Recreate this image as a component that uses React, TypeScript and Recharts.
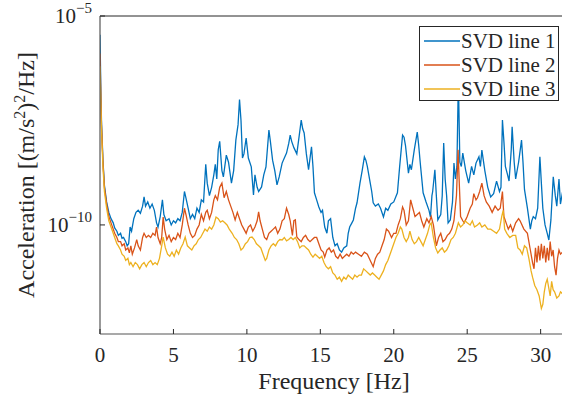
import { LineChart, Line, XAxis, YAxis, Legend } from "recharts";

// [frequency (Hz), log10 of PSD]
const SVD1_LOG: [number, number][] = [
  [0, -5.45], [0.05, -6.6], [0.1, -7.5], [0.2, -8.45], [0.3, -9.05], [0.45, -9.45],
  [0.6, -9.7], [0.75, -9.85], [0.9, -9.95], [1.0, -10.07], [1.15, -10.15], [1.25, -10.25],
  [1.4, -10.2], [1.5, -10.32], [1.6, -10.3], [1.75, -10.4], [1.85, -10.5], [1.95, -10.45],
  [2.05, -10.05], [2.15, -10.15], [2.3, -9.85], [2.45, -9.7], [2.6, -9.65], [2.75, -9.72],
  [2.9, -9.55], [3.0, -9.33], [3.1, -9.55], [3.25, -9.45], [3.4, -9.6], [3.55, -9.5],
  [3.7, -9.65], [3.85, -9.95], [3.95, -10.05], [4.1, -9.8], [4.25, -9.4], [4.35, -9.75],
  [4.5, -9.9], [4.7, -9.85], [4.85, -10.0], [5.0, -9.9], [5.15, -9.95], [5.3, -9.85],
  [5.45, -9.9], [5.6, -9.7], [5.75, -9.2], [5.85, -9.35], [6.0, -9.6], [6.15, -9.85],
  [6.3, -9.75], [6.45, -9.85], [6.6, -9.6], [6.75, -9.7], [6.9, -9.4], [7.05, -9.45],
  [7.2, -8.55], [7.3, -9.0], [7.45, -9.3], [7.6, -9.1], [7.75, -8.8], [7.85, -8.55],
  [7.95, -8.9], [8.05, -8.2], [8.15, -8.0], [8.3, -8.7], [8.4, -8.85], [8.6, -8.33],
  [8.75, -8.5], [8.95, -9.0], [9.1, -8.7], [9.25, -7.97], [9.4, -7.6], [9.5, -7.0],
  [9.6, -7.5], [9.7, -8.4], [9.8, -8.3], [9.95, -7.92], [10.1, -8.4], [10.3, -8.61],
  [10.45, -9.28], [10.55, -8.8], [10.7, -9.1], [10.8, -9.2], [11.0, -9.09], [11.15, -8.8],
  [11.3, -8.61], [11.5, -7.73], [11.6, -8.0], [11.75, -8.45], [11.9, -8.7], [12.05, -9.04],
  [12.2, -8.85], [12.4, -8.52], [12.55, -8.4], [12.7, -8.28], [12.85, -8.05], [12.95, -7.85],
  [13.05, -8.0], [13.2, -8.15], [13.4, -8.3], [13.55, -7.9], [13.7, -7.49], [13.8, -7.7],
  [13.9, -7.8], [14.05, -8.3], [14.2, -8.68], [14.3, -8.4], [14.4, -8.13], [14.5, -8.6],
  [14.6, -9.23], [14.75, -9.4], [14.9, -9.57], [15.05, -9.7], [15.15, -9.65], [15.3, -10.05],
  [15.45, -10.2], [15.55, -9.9], [15.7, -9.85], [15.85, -10.3], [16.0, -10.5], [16.15, -10.45],
  [16.3, -10.6], [16.45, -10.65], [16.6, -10.55], [16.8, -10.5], [16.9, -10.2], [17.0, -10.05],
  [17.15, -9.95], [17.25, -9.88], [17.4, -9.6], [17.5, -9.47], [17.7, -9.0], [17.85, -8.7],
  [18.0, -8.37], [18.1, -8.45], [18.2, -8.6], [18.4, -9.0], [18.5, -9.2], [18.6, -9.47],
  [18.75, -9.55], [18.95, -9.5], [19.1, -9.6], [19.3, -9.81], [19.45, -9.6], [19.6, -9.65],
  [19.8, -9.5], [20.0, -9.45], [20.25, -9.23], [20.4, -8.61], [20.6, -7.85], [20.7, -7.9],
  [20.8, -8.1], [21.0, -8.76], [21.1, -8.55], [21.2, -8.68], [21.4, -8.2], [21.6, -7.78],
  [21.7, -8.1], [21.8, -8.5], [22.0, -9.23], [22.2, -9.45], [22.4, -9.65], [22.5, -9.81],
  [22.6, -9.3], [22.65, -9.2], [22.8, -8.68], [22.9, -9.3], [23.0, -9.88], [23.2, -9.75],
  [23.3, -9.3], [23.4, -8.04], [23.5, -8.9], [23.6, -9.3], [23.7, -9.95], [23.85, -9.88],
  [24.0, -9.45], [24.1, -8.52], [24.2, -8.9], [24.3, -8.6], [24.4, -6.5], [24.5, -8.5],
  [24.6, -8.6], [24.7, -8.28], [24.9, -8.7], [25.1, -9.0], [25.3, -8.6], [25.45, -8.8],
  [25.6, -8.52], [25.8, -8.37], [25.9, -8.6], [26.0, -8.21], [26.2, -8.7], [26.4, -9.1],
  [26.6, -9.33], [26.8, -9.25], [27.0, -8.95], [27.2, -9.2], [27.3, -9.1], [27.4, -7.49],
  [27.5, -8.0], [27.6, -8.6], [27.75, -8.8], [27.85, -8.95], [28.0, -8.2], [28.06, -7.65],
  [28.2, -8.5], [28.3, -8.9], [28.5, -8.5], [28.7, -7.97], [28.8, -8.5], [28.9, -9.15],
  [29.1, -9.6], [29.3, -10.1], [29.4, -9.9], [29.5, -9.8], [29.65, -9.85], [29.8, -9.6],
  [29.95, -8.37], [30.05, -9.0], [30.15, -9.6], [30.3, -10.0], [30.45, -10.2], [30.56, -10.36],
  [30.7, -9.88], [30.86, -8.85], [31.0, -9.3], [31.1, -9.55], [31.25, -8.9], [31.35, -9.5],
  [31.5, -9.2],
];

const SVD2_LOG: [number, number][] = [
  [0, -5.9], [0.05, -6.8], [0.1, -7.6], [0.2, -8.5], [0.3, -9.1], [0.45, -9.5],
  [0.6, -9.8], [0.75, -9.95], [0.9, -10.1], [1.0, -10.2], [1.15, -10.3], [1.25, -10.4],
  [1.4, -10.4], [1.5, -10.5], [1.65, -10.45], [1.75, -10.6], [1.9, -10.55], [2.0, -10.67],
  [2.1, -10.5], [2.2, -10.7], [2.35, -10.55], [2.5, -10.35], [2.6, -10.5], [2.75, -10.6],
  [2.9, -10.3], [3.0, -10.2], [3.15, -10.3], [3.3, -10.25], [3.45, -10.3], [3.6, -10.2],
  [3.75, -10.25], [3.85, -10.05], [3.95, -10.3], [4.1, -10.45], [4.2, -10.3], [4.3, -9.81],
  [4.4, -10.1], [4.55, -10.35], [4.7, -10.25], [4.85, -10.4], [5.0, -10.3], [5.15, -10.35],
  [5.3, -10.2], [5.45, -10.3], [5.6, -10.0], [5.75, -9.6], [5.85, -9.75], [6.0, -10.0],
  [6.15, -10.2], [6.3, -10.3], [6.45, -10.25], [6.6, -10.1], [6.75, -10.0], [6.9, -9.75],
  [7.05, -9.9], [7.2, -9.7], [7.3, -9.65], [7.45, -9.85], [7.6, -9.7], [7.75, -9.4],
  [7.85, -9.3], [8.0, -9.4], [8.15, -9.1], [8.3, -9.0], [8.45, -9.35], [8.6, -9.2],
  [8.75, -9.4], [8.9, -9.55], [9.05, -9.7], [9.2, -9.88], [9.35, -9.7], [9.5, -9.85],
  [9.65, -10.0], [9.8, -10.1], [9.95, -10.2], [10.1, -10.05], [10.25, -10.0], [10.4, -10.15],
  [10.55, -10.05], [10.7, -9.9], [10.8, -9.69], [10.9, -9.9], [11.05, -10.1], [11.2, -10.3],
  [11.35, -10.35], [11.5, -10.2], [11.65, -10.15], [11.8, -10.1], [11.95, -10.05], [12.1, -10.2],
  [12.25, -10.1], [12.4, -9.9], [12.55, -9.85], [12.7, -9.6], [12.85, -9.75], [12.95, -9.9],
  [13.1, -10.25], [13.2, -9.9], [13.3, -9.88], [13.4, -10.29], [13.55, -10.35], [13.7, -10.4],
  [13.85, -10.3], [14.0, -10.25], [14.15, -10.35], [14.3, -10.4], [14.45, -10.35], [14.6, -10.3],
  [14.75, -10.3], [14.9, -10.45], [15.05, -10.6], [15.2, -10.65], [15.3, -10.77], [15.45, -10.6],
  [15.6, -10.55], [15.75, -10.65], [15.9, -10.6], [16.05, -10.75], [16.2, -10.8], [16.35, -10.7],
  [16.5, -10.8], [16.65, -10.75], [16.8, -10.7], [16.95, -10.75], [17.1, -10.65], [17.25, -10.7],
  [17.4, -10.65], [17.6, -10.7], [17.8, -10.75], [18.0, -10.65], [18.2, -10.7], [18.4, -10.85],
  [18.6, -11.0], [18.75, -10.8], [18.9, -10.7], [19.05, -10.65], [19.2, -10.5], [19.35, -10.35],
  [19.5, -10.1], [19.65, -10.15], [19.85, -10.3], [20.0, -10.2], [20.15, -10.2], [20.3, -10.0],
  [20.45, -9.85], [20.6, -9.57], [20.7, -9.65], [20.85, -10.0], [21.0, -9.9], [21.15, -9.4],
  [21.3, -9.6], [21.45, -9.8], [21.6, -9.75], [21.75, -9.7], [21.9, -9.9], [22.05, -10.05],
  [22.25, -9.85], [22.4, -9.95], [22.55, -9.8], [22.7, -10.0], [22.9, -10.5], [23.05, -10.3],
  [23.2, -10.2], [23.35, -10.4], [23.5, -10.35], [23.65, -10.25], [23.8, -10.2], [23.95, -10.1],
  [24.1, -9.9], [24.27, -9.3], [24.38, -8.2], [24.45, -8.9], [24.55, -9.8], [24.7, -9.9],
  [24.8, -9.95], [25.0, -9.8], [25.2, -9.6], [25.35, -9.5], [25.45, -9.25], [25.6, -9.4],
  [25.7, -9.35], [25.85, -9.2], [26.0, -9.0], [26.15, -9.3], [26.3, -9.45], [26.5, -9.55],
  [26.7, -9.7], [26.9, -9.55], [27.1, -9.65], [27.25, -9.6], [27.4, -9.2], [27.5, -9.8],
  [27.65, -9.95], [27.8, -10.1], [27.95, -10.0], [28.1, -10.15], [28.3, -9.95], [28.5, -9.85],
  [28.6, -9.9], [28.86, -10.1], [29.1, -10.2], [29.3, -10.6], [29.45, -10.9], [29.55, -11.05],
  [29.65, -10.55], [29.75, -10.9], [29.85, -10.5], [29.95, -10.85], [30.05, -10.45], [30.15, -10.8],
  [30.25, -10.5], [30.35, -10.9], [30.45, -10.55], [30.55, -10.85], [30.65, -10.4], [30.75, -10.75],
  [30.85, -10.6], [30.95, -11.0], [31.05, -11.2], [31.15, -10.8], [31.25, -10.6], [31.35, -10.7],
  [31.5, -10.65],
];

const SVD3_LOG: [number, number][] = [
  [0, -6.2], [0.05, -7.0], [0.1, -7.7], [0.2, -8.6], [0.3, -9.2], [0.45, -9.6],
  [0.6, -9.9], [0.75, -10.05], [0.9, -10.2], [1.0, -10.3], [1.15, -10.45], [1.25, -10.5],
  [1.4, -10.6], [1.5, -10.7], [1.65, -10.75], [1.75, -10.85], [1.9, -10.8], [2.0, -10.95],
  [2.1, -10.9], [2.25, -11.0], [2.4, -10.9], [2.55, -10.95], [2.7, -11.05], [2.85, -10.95],
  [3.0, -10.9], [3.15, -11.0], [3.3, -10.9], [3.45, -10.85], [3.6, -10.95], [3.75, -10.9],
  [3.9, -10.95], [4.05, -10.8], [4.2, -10.5], [4.3, -10.29], [4.45, -10.55], [4.6, -10.7],
  [4.75, -10.75], [4.9, -10.65], [5.05, -10.75], [5.2, -10.6], [5.35, -10.7], [5.5, -10.55],
  [5.65, -10.45], [5.8, -10.29], [5.95, -10.5], [6.1, -10.55], [6.25, -10.6], [6.4, -10.5],
  [6.55, -10.45], [6.7, -10.35], [6.85, -10.3], [7.0, -10.2], [7.15, -10.1], [7.3, -10.15],
  [7.45, -10.05], [7.6, -10.1], [7.75, -10.0], [7.9, -9.81], [8.05, -9.85], [8.2, -9.93],
  [8.35, -9.9], [8.5, -9.95], [8.65, -10.0], [8.8, -10.1], [9.0, -10.2], [9.15, -10.3],
  [9.3, -10.35], [9.45, -10.45], [9.6, -10.6], [9.75, -10.55], [9.9, -10.45], [10.05, -10.4],
  [10.2, -10.3], [10.35, -10.29], [10.5, -10.35], [10.65, -10.45], [10.8, -10.5], [10.95, -10.55],
  [11.1, -10.7], [11.25, -10.85], [11.35, -10.8], [11.5, -10.6], [11.65, -10.5], [11.8, -10.45],
  [11.95, -10.5], [12.1, -10.4], [12.25, -10.35], [12.4, -10.36], [12.55, -10.3], [12.7, -10.38],
  [12.85, -10.35], [13.0, -10.3], [13.15, -10.35], [13.3, -10.3], [13.45, -10.4], [13.6, -10.55],
  [13.75, -10.5], [13.9, -10.5], [14.05, -10.55], [14.2, -10.6], [14.35, -10.7], [14.5, -10.77],
  [14.65, -10.7], [14.8, -10.75], [14.95, -10.8], [15.1, -10.75], [15.25, -10.9], [15.4, -11.0],
  [15.55, -11.05], [15.7, -11.0], [15.85, -11.15], [16.0, -11.2], [16.15, -11.3], [16.3, -11.25],
  [16.45, -11.35], [16.6, -11.25], [16.75, -11.3], [16.9, -11.2], [17.05, -11.25], [17.2, -11.3],
  [17.35, -11.2], [17.5, -11.25], [17.65, -11.2], [17.8, -11.2], [17.95, -11.05], [18.1, -11.1],
  [18.25, -11.15], [18.4, -11.2], [18.55, -11.15], [18.7, -11.2], [18.85, -11.25], [19.0, -11.3],
  [19.15, -11.2], [19.3, -11.1], [19.45, -10.95], [19.6, -10.85], [19.75, -10.7], [19.9, -10.55],
  [20.0, -10.45], [20.15, -10.3], [20.3, -10.2], [20.45, -10.05], [20.55, -10.1], [20.7, -10.3],
  [20.85, -10.4], [21.0, -10.3], [21.1, -10.15], [21.25, -10.35], [21.4, -10.45], [21.55, -10.4],
  [21.7, -10.3], [21.85, -10.4], [22.0, -10.5], [22.15, -10.35], [22.3, -10.2], [22.45, -10.0],
  [22.55, -9.95], [22.7, -10.3], [22.85, -10.55], [23.0, -10.67], [23.15, -10.6], [23.3, -10.55],
  [23.45, -10.65], [23.6, -10.6], [23.75, -10.5], [23.9, -10.35], [24.05, -10.3], [24.2, -10.2],
  [24.4, -9.95], [24.55, -10.05], [24.7, -10.0], [24.85, -9.9], [25.0, -9.95], [25.2, -10.0],
  [25.35, -9.9], [25.5, -10.05], [25.7, -10.0], [25.85, -9.95], [26.0, -10.05], [26.2, -10.0],
  [26.4, -10.1], [26.6, -10.1], [26.8, -10.15], [27.0, -10.2], [27.2, -10.1], [27.35, -9.8],
  [27.45, -9.65], [27.55, -10.1], [27.7, -10.2], [27.9, -10.3], [28.1, -10.25], [28.3, -10.25],
  [28.45, -10.55], [28.6, -10.6], [28.75, -10.7], [28.9, -10.5], [29.05, -10.55], [29.2, -10.8],
  [29.35, -11.1], [29.45, -11.25], [29.6, -11.45], [29.75, -11.55], [29.9, -11.7], [30.05, -12.0],
  [30.15, -11.9], [30.25, -11.6], [30.35, -11.4], [30.45, -11.3], [30.55, -11.5], [30.65, -11.7],
  [30.75, -11.35], [30.85, -11.55], [30.95, -11.6], [31.1, -11.75], [31.25, -11.7], [31.35, -11.6],
  [31.5, -11.65],
];

const SERIES_NAMES = ["SVD line 1", "SVD line 2", "SVD line 3"];
const SERIES_COLORS = ["#0072BD", "#D95319", "#EDB120"];
const X_TICKS = [0, 5, 10, 15, 20, 25, 30];
const Y_TICKS = [1e-10, 1e-5];
const X_DOMAIN = [0, 32];
const Y_DOMAIN = [Math.pow(10, -12.61), 1e-5];

const FONT = "Liberation Serif, DejaVu Serif, serif";
const INK = "#262626";

const toPoints = (pairs: [number, number][]) =>
  pairs.map(([f, e]) => ({ f, v: Math.pow(10, e) }));

const series = [SVD1_LOG, SVD2_LOG, SVD3_LOG].map(toPoints);

function BottomTick(props: any) {
  const { x, y, payload } = props;
  return (
    <g>
      <line x1={x} y1={y} x2={x} y2={y - 5} stroke={INK} />
      <text x={x} y={y + 28} textAnchor="middle" style={{ fontFamily: FONT, fontSize: 21 }} fill={INK}>
        {payload.value}
      </text>
    </g>
  );
}

function TopTick(props: any) {
  const { x, y } = props;
  return <line x1={x} y1={y} x2={x} y2={y + 5} stroke={INK} />;
}

function LeftTick(props: any) {
  const { x, y, payload } = props;
  const exp = Math.round(Math.log10(payload.value));
  return (
    <g>
      <line x1={x} y1={y} x2={x + 5} y2={y} stroke={INK} />
      <text x={x - 8} y={y + 7} textAnchor="end" style={{ fontFamily: FONT, fontSize: 21 }} fill={INK}>
        10
        <tspan dy={-10} style={{ fontSize: 15 }}>
          {"\u2212" + Math.abs(exp)}
        </tspan>
      </text>
    </g>
  );
}

function YTitle() {
  return (
    <text
      transform="translate(34,175) rotate(-90)"
      textAnchor="middle"
      style={{ fontFamily: FONT, fontSize: 24 }}
      fill={INK}
    >
      Acceleration [(m/s
      <tspan dy={-9} style={{ fontSize: 16 }}>2</tspan>
      <tspan dy={9}>)</tspan>
      <tspan dy={-9} style={{ fontSize: 16 }}>2</tspan>
      <tspan dy={9}>/Hz]</tspan>
    </text>
  );
}

function XTitle() {
  return (
    <text x={334} y={389} textAnchor="middle" style={{ fontFamily: FONT, fontSize: 24 }} fill={INK}>
      Frequency [Hz]
    </text>
  );
}

function LegendBox(props: any) {
  const items = props.payload || [];
  return (
    <div
      style={{
        background: "#fff",
        border: `1px solid ${INK}`,
        width: 140,
        height: 75,
        boxSizing: "border-box",
        padding: "2px 0 0 4px",
        fontFamily: FONT,
        fontSize: 21,
        color: INK,
      }}
    >
      {items.map((item: any) => (
        <div key={item.value} style={{ display: "flex", alignItems: "center", height: 24 }}>
          <svg width={36} height={4}>
            <line x1={0} y1={2} x2={36} y2={2} stroke={item.color} strokeWidth={1.3} />
          </svg>
          <span style={{ marginLeft: 1, lineHeight: "24px", whiteSpace: "nowrap" }}>{item.value}</span>
        </div>
      ))}
    </div>
  );
}

export default function App() {
  return (
    <div
      style={{
        position: "absolute",
        left: 0,
        top: 0,
        width: 562,
        height: 399,
        overflow: "hidden",
        background: "#fff",
        fontFamily: FONT,
      }}
    >
      <LineChart width={570} height={399} margin={{ top: 0, right: 0, bottom: 0, left: 0 }}>
        <XAxis
          dataKey="f"
          type="number"
          domain={X_DOMAIN}
          ticks={X_TICKS}
          allowDataOverflow
          height={65}
          tickSize={0}
          tickMargin={0}
          tickLine={false}
          tick={BottomTick}
          axisLine={{ stroke: "#555", strokeWidth: 1.2 }}
          label={{ content: XTitle }}
        />
        <XAxis
          xAxisId="top"
          orientation="top"
          type="number"
          domain={X_DOMAIN}
          ticks={X_TICKS}
          allowDataOverflow
          height={16}
          tickSize={0}
          tickMargin={0}
          tickLine={false}
          tick={TopTick}
          axisLine={{ stroke: INK, strokeWidth: 1 }}
        />
        <YAxis
          type="number"
          scale="log"
          domain={Y_DOMAIN}
          ticks={Y_TICKS}
          allowDataOverflow
          width={100}
          tickSize={0}
          tickMargin={0}
          tickLine={false}
          tick={LeftTick}
          axisLine={{ stroke: "#555", strokeWidth: 1.2 }}
          label={{ content: YTitle }}
        />
        <Legend
          layout="vertical"
          align="center"
          verticalAlign="middle"
          content={LegendBox}
          wrapperStyle={{ left: 419, top: 26, width: 140, height: 75 }}
        />
        {series.map((data, i) => (
          <Line
            key={SERIES_NAMES[i]}
            data={data}
            dataKey="v"
            name={SERIES_NAMES[i]}
            type="linear"
            stroke={SERIES_COLORS[i]}
            strokeWidth={1.3}
            dot={false}
            activeDot={false}
            isAnimationActive={false}
          />
        ))}
      </LineChart>
    </div>
  );
}
